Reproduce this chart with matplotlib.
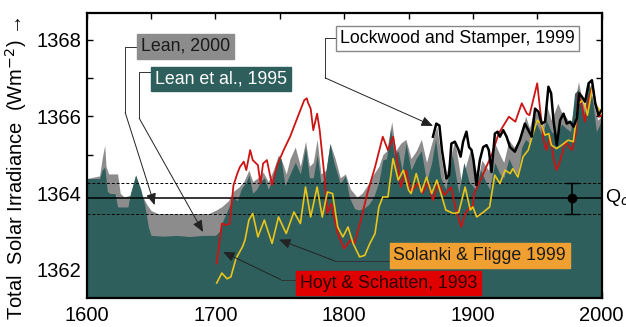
"""Total solar irradiance reconstructions since 1600 (recreated figure)."""
import matplotlib
matplotlib.use("Agg")
import matplotlib.pyplot as plt
from matplotlib.ticker import MultipleLocator

plt.rcParams["font.family"] = ["Liberation Sans", "DejaVu Sans"]

# Lean et al., 1995 (teal fill)
lean95_year = [1600, 1610, 1612, 1614, 1616, 1618, 1622, 1624, 1632, 1634, 1638, 1642, 1645, 1648,
               1650, 1660, 1670, 1680, 1690, 1700, 1703, 1706, 1710, 1714, 1717, 1720, 1724, 1726,
               1729, 1732, 1735, 1738, 1741, 1745, 1749, 1751, 1754, 1758, 1762, 1766, 1770, 1773,
               1776, 1779, 1782, 1785, 1789, 1792, 1797, 1801, 1804, 1808, 1811, 1815, 1819, 1823,
               1827, 1830, 1833, 1836, 1839, 1842, 1845, 1848, 1852, 1856, 1860, 1864, 1868, 1871,
               1875, 1879, 1884, 1889, 1893, 1897, 1902, 1906, 1910, 1913, 1917, 1921, 1924, 1928,
               1932, 1935, 1938, 1941, 1944, 1948, 1951, 1954, 1957, 1961, 1965, 1969, 1972, 1976,
               1979, 1982, 1986, 1990, 1993, 1996, 2000]
lean95_tsi = [1364.38, 1364.38, 1364.6, 1364.68, 1364.05, 1363.99, 1363.99, 1363.64, 1363.64, 1364.0,
              1364.47, 1364.1, 1363.7, 1363.1, 1362.9, 1362.88, 1362.9, 1362.87, 1362.9, 1362.9,
              1363.0, 1363.3, 1363.6, 1363.9, 1363.8, 1364.1, 1364.3, 1364.47, 1364.0, 1364.1,
              1364.3, 1364.4, 1364.1, 1364.4, 1364.95, 1364.9, 1364.2, 1364.5, 1364.8, 1364.5,
              1365.2, 1364.4, 1364.4, 1365.0, 1364.25, 1364.4, 1365.29, 1364.8, 1364.25, 1364.45,
              1363.9, 1363.6, 1363.56, 1363.6, 1363.7, 1363.9, 1364.3, 1364.86, 1364.9, 1365.68,
              1365.0, 1365.1, 1364.6, 1365.3, 1364.6, 1364.9, 1365.1, 1364.3, 1364.8, 1365.4,
              1364.4, 1364.1, 1365.0, 1364.0, 1364.8, 1364.3, 1364.1, 1364.6, 1364.3, 1364.1,
              1364.8, 1364.5, 1364.4, 1364.9, 1364.6, 1364.5, 1365.2, 1365.4, 1365.3, 1365.9,
              1365.7, 1365.5, 1365.9, 1365.6, 1365.5, 1365.8, 1365.7, 1365.6, 1366.6, 1366.7,
              1366.0, 1366.93, 1366.4, 1365.6, 1365.9]

# Lean, 2000 (grey fill)
lean00_year = [1600, 1610, 1612, 1614, 1615, 1617, 1624, 1626, 1629, 1634, 1638, 1642, 1647, 1650,
               1655, 1695, 1700, 1705, 1710, 1714, 1718, 1722, 1726, 1729, 1733, 1737, 1741, 1745,
               1749, 1752, 1755, 1758, 1762, 1766, 1770, 1773, 1776, 1779, 1782, 1786, 1789, 1793,
               1797, 1801, 1805, 1810, 1814, 1818, 1823, 1827, 1830, 1833, 1837, 1840, 1844, 1848,
               1852, 1856, 1860, 1864, 1868, 1872, 1878, 1886, 1891, 1898, 1904, 1907, 1912, 1917,
               1921, 1924, 1928, 1932, 1936, 1941, 1944, 1948, 1951, 1954, 1957, 1961, 1966, 1969,
               1972, 1976, 1982, 1985, 1988, 1991, 1994, 1997, 2000]
lean00_tsi = [1364.38, 1364.45, 1364.9, 1365.25, 1364.7, 1364.5, 1364.5, 1364.0, 1363.9, 1363.95,
              1364.47, 1364.0, 1363.69, 1363.55, 1363.47, 1363.47, 1363.55, 1363.65, 1363.8, 1364.05,
              1364.15, 1364.3, 1364.6, 1364.3, 1364.4, 1364.55, 1364.3, 1364.6, 1365.0, 1364.8,
              1364.5, 1364.9, 1365.2, 1364.7, 1365.35, 1364.7, 1364.8, 1365.4, 1364.5, 1364.6,
              1365.3, 1364.9, 1364.4, 1364.5, 1364.1, 1363.9, 1364.0, 1364.2, 1364.5, 1364.7,
              1365.0, 1365.1, 1365.86, 1365.1, 1365.3, 1365.4, 1364.9, 1365.1, 1365.4, 1364.8,
              1365.3, 1365.73, 1364.34, 1365.38, 1364.3, 1365.12, 1364.4, 1364.86, 1364.6, 1365.3,
              1365.0, 1364.8, 1365.38, 1365.2, 1365.38, 1366.0, 1365.7, 1366.2, 1366.0, 1365.7,
              1366.3, 1365.9, 1366.34, 1366.1, 1366.0, 1365.8, 1366.9, 1366.4, 1366.1, 1366.8,
              1366.3, 1365.9, 1366.0]

# Hoyt & Schatten, 1993 (red)
hoyt_year = [1701, 1705, 1708, 1711, 1714, 1717, 1719, 1722, 1724, 1727, 1729, 1733, 1735, 1737,
             1740, 1744, 1748, 1753, 1758, 1764, 1769, 1771, 1772, 1774, 1776, 1779, 1781, 1785,
             1787, 1790, 1795, 1800, 1805, 1808, 1813, 1818, 1824, 1830, 1834, 1838, 1842, 1844,
             1848, 1852, 1857, 1861, 1865, 1869, 1873, 1878, 1883, 1887, 1891, 1894, 1898, 1900,
             1901, 1907, 1915, 1920, 1928, 1933, 1938, 1942, 1944, 1950, 1952, 1955, 1957, 1960,
             1963, 1965, 1968, 1972, 1977, 1980, 1982, 1985, 1987, 1990, 1993, 1995, 1998, 2000]
hoyt_tsi = [1362.17, 1363.21, 1363.17, 1363.2, 1364.2, 1364.51, 1364.68, 1364.82, 1364.6, 1365.12,
            1364.86, 1364.73, 1364.25, 1364.77, 1364.86, 1364.21, 1364.73, 1365.12, 1365.47, 1365.99,
            1366.42, 1366.47, 1366.35, 1366.2, 1365.64, 1366.07, 1365.64, 1364.34, 1363.47, 1363.73,
            1362.95, 1362.56, 1362.78, 1362.69, 1363.3, 1363.99, 1364.68, 1365.47, 1365.12, 1365.47,
            1364.68, 1364.16, 1364.6, 1364.03, 1364.25, 1364.0, 1364.29, 1363.82, 1364.25, 1363.95,
            1364.16, 1363.56, 1363.12, 1363.47, 1363.64, 1363.64, 1363.99, 1364.42, 1365.03, 1365.55,
            1365.99, 1365.86, 1366.34, 1366.07, 1366.03, 1366.86, 1366.25, 1365.38, 1365.12, 1365.47,
            1364.86, 1364.6, 1364.86, 1365.34, 1365.12, 1365.55, 1366.6, 1366.25, 1365.86, 1366.42,
            1366.81, 1366.34, 1365.99, 1366.03]

# Solanki & Fligge 1999 (yellow)
solanki_year = [1701, 1705, 1709, 1712, 1716, 1721, 1723, 1726, 1729, 1733, 1738, 1744, 1749, 1755,
                1761, 1766, 1770, 1774, 1779, 1783, 1787, 1791, 1795, 1799, 1803, 1807, 1812, 1816,
                1820, 1824, 1827, 1830, 1834, 1838, 1842, 1846, 1850, 1852, 1856, 1860, 1864, 1868,
                1872, 1876, 1879, 1885, 1889, 1894, 1898, 1900, 1903, 1908, 1913, 1917, 1921, 1925,
                1929, 1931, 1935, 1939, 1943, 1946, 1950, 1953, 1956, 1959, 1961, 1965, 1969, 1974,
                1978, 1982, 1986, 1989, 1993, 1995, 2000]
solanki_tsi = [1361.66, 1361.92, 1361.77, 1361.82, 1362.3, 1362.6, 1362.78, 1363.3, 1363.47, 1362.86,
               1363.3, 1362.69, 1363.38, 1362.95, 1363.51, 1363.21, 1364.16, 1363.38, 1364.16, 1363.38,
               1364.03, 1363.99, 1363.12, 1362.86, 1363.12, 1362.69, 1362.34, 1362.38, 1362.69, 1362.95,
               1363.64, 1363.9, 1363.9, 1364.9, 1364.34, 1364.6, 1364.08, 1363.99, 1364.51, 1364.03,
               1364.42, 1363.99, 1364.34, 1363.9, 1363.56, 1363.47, 1363.5, 1364.16, 1363.56, 1363.64,
               1363.38, 1363.5, 1363.64, 1364.47, 1364.25, 1364.6, 1364.51, 1364.64, 1364.42, 1364.95,
               1365.12, 1365.47, 1365.9, 1365.81, 1365.51, 1365.55, 1365.25, 1365.16, 1365.25, 1365.38,
               1365.34, 1366.34, 1366.42, 1366.03, 1366.77, 1366.34, 1366.08]

# Lockwood and Stamper, 1999 (black)
lockwood_year = [1869, 1871.6, 1874, 1876, 1879.4, 1881.5, 1883.3, 1886, 1888.5, 1890.5, 1892.4,
                 1895, 1897, 1899, 1900.5, 1902.8, 1905.4, 1908, 1910.6, 1912.4, 1914.5, 1917.1,
                 1919.2, 1921, 1923.6, 1926.2, 1928.8, 1932.6, 1936.5, 1940.4, 1943.1, 1945.7,
                 1948.3, 1950.9, 1953.5, 1956.1, 1958.7, 1960.8, 1962.6, 1965.2, 1967.8, 1970.4,
                 1973, 1975.6, 1978.2, 1980.8, 1982.6, 1984.7, 1987.2, 1989.9, 1992.5, 1995.1,
                 1997.6, 2000]
lockwood_tsi = [1365.47, 1365.81, 1365.76, 1365.12, 1364.38, 1364.47, 1365.29, 1365.34, 1365.16,
                1364.95, 1365.34, 1365.6, 1365.2, 1365.12, 1364.86, 1364.21, 1364.86, 1365.2,
                1365.25, 1365.12, 1364.55, 1365.55, 1365.6, 1365.47, 1365.64, 1365.47, 1365.2,
                1365.08, 1365.38, 1365.81, 1365.64, 1365.47, 1366.2, 1366.12, 1365.81, 1365.86,
                1366.77, 1366.6, 1365.9, 1365.25, 1365.9, 1366.07, 1365.81, 1365.86, 1365.73,
                1365.95, 1366.6, 1366.51, 1366.38, 1366.86, 1366.94, 1366.34, 1366.03, 1366.16]

# solar constant Q0 with its uncertainty
q0_mean = 1363.87
q0_low = 1363.45
q0_high = 1364.26
q0_bar_year = 1977

TEAL = "#2e5f5d"
GREY = "#8c8c8c"
RED = "#cc1414"
YELLOW = "#e8c41c"
YMIN, YMAX = 1361.27, 1368.69

fig = plt.figure(figsize=(6.26, 3.27), dpi=100)
ax = fig.add_axes([0.1385, 0.0887, 0.8225, 0.8715])

ax.fill_between(lean00_year, YMIN, lean00_tsi, color=GREY, linewidth=0, zorder=1)
ax.fill_between(lean95_year, YMIN, lean95_tsi, color=TEAL, linewidth=0, zorder=2)

ax.axhline(q0_mean, color="black", linewidth=1.1, zorder=3)
ax.axhline(q0_high, color="black", linewidth=0.7, linestyle=(0, (3, 2)), zorder=3)
ax.axhline(q0_low, color="black", linewidth=0.7, linestyle=(0, (3, 2)), zorder=3)
ax.errorbar([q0_bar_year], [q0_mean],
            yerr=[[q0_mean - q0_low], [q0_high - q0_mean]],
            fmt="o", color="black", markersize=6, capsize=5, elinewidth=1.2, zorder=6)

ax.plot(hoyt_year, hoyt_tsi, color=RED, linewidth=1.3, zorder=4)
ax.plot(solanki_year, solanki_tsi, color=YELLOW, linewidth=1.2, zorder=5)
ax.plot(lockwood_year, lockwood_tsi, color="black", linewidth=1.8, zorder=5)

ax.set_xlim(1600, 2000)
ax.set_ylim(YMIN, YMAX)
ax.xaxis.set_major_locator(MultipleLocator(100))
ax.xaxis.set_minor_locator(MultipleLocator(50))
ax.yaxis.set_major_locator(MultipleLocator(2))
ax.yaxis.set_minor_locator(MultipleLocator(1))
ax.tick_params(which="both", direction="in", top=True, right=True, length=4, width=1)
ax.tick_params(axis="x", labelsize=14.5, pad=6)
ax.tick_params(axis="y", labelsize=14.5, pad=4)
for sp in ax.spines.values():
    sp.set_linewidth(1.6)


def leader(label, box_xy, path, tip, fc, tc, ec=None):
    ax.text(box_xy[0], box_xy[1], label, fontsize=12.8, color=tc, ha="left", va="center", zorder=10,
            bbox=dict(boxstyle="square,pad=0.22", fc=fc, ec=ec if ec else fc, lw=1))
    xs = [p[0] for p in path]
    ys = [p[1] for p in path]
    ax.plot(xs, ys, color="#333333", linewidth=0.7, zorder=9, clip_on=False)
    ax.annotate("", xy=tip, xytext=path[-1], zorder=9,
                arrowprops=dict(arrowstyle="-|>,head_length=0.7,head_width=0.3",
                                color="#222222", lw=0.7, shrinkA=0, shrinkB=0))


leader("Lean, 2000", (1642.1, 1367.82),
       [(1638.8, 1367.81), (1629.9, 1367.81), (1629.9, 1366.1)], (1652.7, 1363.69), GREY, "#1a1a1a")
leader("Lean et al., 1995", (1652.8, 1366.97),
       [(1649.9, 1367.15), (1640.8, 1367.15), (1640.8, 1365.95)], (1690.4, 1362.99), TEAL, "white")
leader("Lockwood and Stamper, 1999", (1796.7, 1368.02),
       [(1793.6, 1368.03), (1785.3, 1368.03), (1785.3, 1367.0)], (1869.0, 1365.75), "white", "black",
       ec="#888888")
leader("Solanki & Fligge 1999", (1838.3, 1362.37),
       [(1835.2, 1362.24), (1792.3, 1362.24)], (1749.4, 1362.79), "#f0a030", "#1a1a1a")
leader("Hoyt & Schatten, 1993", (1765.5, 1361.66),
       [(1762.4, 1361.75), (1750.7, 1361.75)], (1706.0, 1362.47), "#e00000", "#2a0000")

fig.text(0.966, 1 - 198 / 327, "Q$_o$", fontsize=14, ha="left", va="center")
fig.text(0.025, 1 - 168 / 327, "Total  Solar Irradiance  (Wm$^{-2}$) \u2192", fontsize=14.5,
         rotation=90, ha="center", va="center")

fig.savefig("out.png", dpi=100)
